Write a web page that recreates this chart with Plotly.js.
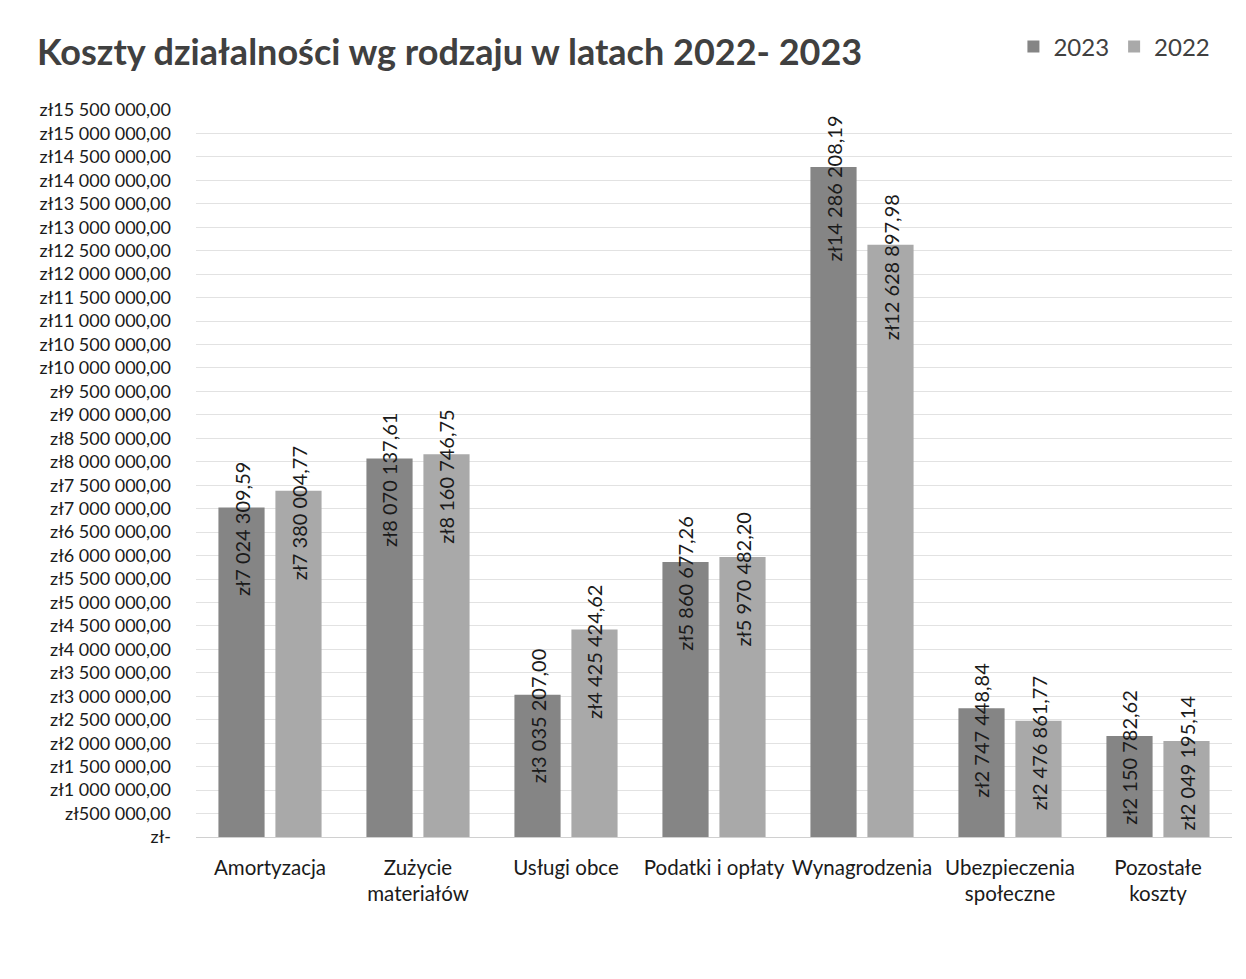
<!DOCTYPE html>
<html>
<head>
<meta charset="utf-8">
<script src="https://cdn.plot.ly/plotly-3.0.1.min.js"></script>
<style>html,body{margin:0;padding:0;background:#fff;}#chart{width:1246px;height:979px;}</style>
</head>
<body>
<div id="chart"></div>
<script>
const categories = ["Amortyzacja", "Zużycie<br>materiałów", "Usługi obce", "Podatki i opłaty", "Wynagrodzenia", "Ubezpieczenia<br>społeczne", "Pozostałe<br>koszty"];
const values2023 = [7024309.59, 8070137.61, 3035207.00, 5860677.26, 14286208.19, 2747448.84, 2150782.62];
const values2022 = [7380004.77, 8160746.75, 4425424.62, 5970482.20, 12628897.98, 2476861.77, 2049195.14];
const seriesNames = ["2023", "2022"];
const tickVals = [0,500000,1000000,1500000,2000000,2500000,3000000,3500000,4000000,4500000,5000000,5500000,6000000,6500000,7000000,7500000,8000000,8500000,9000000,9500000,10000000,10500000,11000000,11500000,12000000,12500000,13000000,13500000,14000000,14500000,15000000,15500000];

function fmtPLN(v) {
  if (v === 0) return "zł-";
  const fixed = v.toFixed(2);
  const parts = fixed.split(".");
  const intPart = parts[0].replace(/\B(?=(\d{3})+(?!\d))/g, " ");
  return "zł" + intPart + "," + parts[1];
}
const tickText = tickVals.map(fmtPLN);

const font = "Lato, sans-serif";
const colors = ["#858585", "#a9a9a9"];
const bargap = 0.23, bargroupgap = 0.19;
const slot = (1 - bargap) / 2;

const traces = [values2023, values2022].map((vals, k) => ({
  type: "bar",
  name: seriesNames[k],
  x: categories,
  y: vals,
  marker: {color: colors[k]},
  hoverinfo: "none"
}));

const annotations = [];
[values2023, values2022].forEach((vals, k) => {
  vals.forEach((v, i) => {
    annotations.push({
      x: i + (k === 0 ? -slot / 2 : slot / 2),
      y: v,
      xref: "x", yref: "y",
      text: fmtPLN(v),
      showarrow: false,
      textangle: -90,
      xanchor: "center",
      yanchor: "middle",
      yshift: -22,
      font: {family: font, size: 20, color: "#1a1a1a"}
    });
  });
});

const layout = {
  width: 1246, height: 979,
  paper_bgcolor: "#ffffff", plot_bgcolor: "#ffffff",
  margin: {l: 196, r: 14, t: 110, b: 142},
  barmode: "group",
  bargap: bargap,
  bargroupgap: bargroupgap,
  title: {
    text: "<b>Koszty działalności wg rodzaju w latach 2022- 2023</b>",
    x: 0.0297, xanchor: "left", xref: "container", y: 0.946, yanchor: "middle",
    font: {family: font, size: 36, color: "#404040"}
  },
  showlegend: true,
  legend: {
    orientation: "h", x: 0.984, xanchor: "right", xref: "paper", y: 1.0867, yanchor: "middle",
    font: {family: font, size: 24, color: "#404040"},
    itemwidth: 30, traceorder: "normal"
  },
  xaxis: {
    type: "category",
    tickfont: {family: font, size: 20.5, color: "#1a1a1a"},
    tickangle: 0,
    ticklabelstandoff: 16,
    showgrid: false,
    showline: false,
    zeroline: false
  },
  yaxis: {
    range: [0, 15500000],
    tickvals: tickVals,
    ticktext: tickText,
    tickfont: {family: font, size: 18, color: "#1a1a1a"},
    ticklabelstandoff: 24,
    showgrid: true,
    gridcolor: "#e2e2e2",
    gridwidth: 1,
    zeroline: true,
    zerolinecolor: "#d0d0d0",
    showline: false
  },
  annotations: annotations
};

Plotly.newPlot("chart", traces, layout, {displayModeBar: false, staticPlot: true});
</script>
</body>
</html>
